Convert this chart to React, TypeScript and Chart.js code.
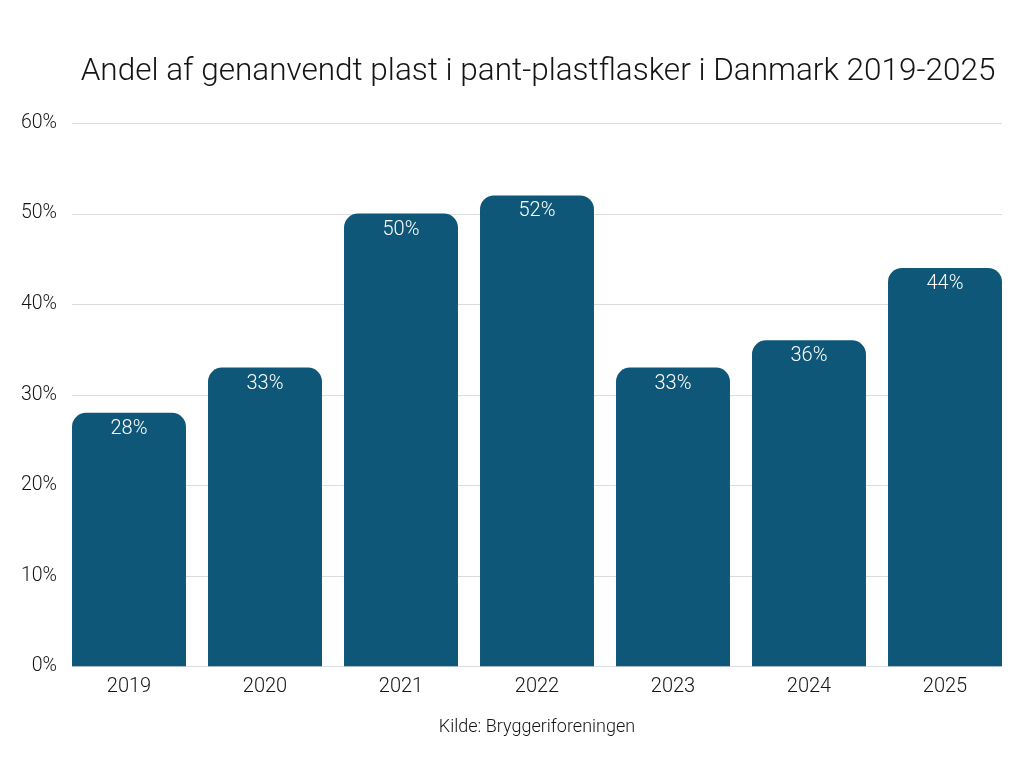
import React, { useEffect, useRef } from "react";
import { Chart, registerables } from "chart.js";

Chart.register(...registerables);

const categories = ["2019", "2020", "2021", "2022", "2023", "2024", "2025"];
const shares = [28, 33, 50, 52, 33, 36, 44];
const yTicks = [0, 10, 20, 30, 40, 50, 60];
const titleText = "Andel af genanvendt plast i pant-plastflasker i Danmark 2019-2025";
const sourceText = "Kilde: Bryggeriforeningen";

const FONT = "Roboto, 'Noto Sans', sans-serif";
const BAR = "#0e5779";
const TEXT = "#141414";

const gridPlugin = {
  id: "customGrid",
  beforeDatasetsDraw(chart: any) {
    const meta = chart.getDatasetMeta(0);
    if (!meta.data.length) return;
    const first = meta.data[0] as any;
    const last = meta.data[meta.data.length - 1] as any;
    const x0 = first.x - first.width / 2;
    const x1 = last.x + last.width / 2;
    const y = chart.scales.y;
    const ctx = chart.ctx;
    ctx.save();
    ctx.strokeStyle = "#dcdcdc";
    ctx.lineWidth = 1;
    y.ticks.forEach((t: any) => {
      const py = Math.round(y.getPixelForValue(t.value)) + 0.5;
      ctx.beginPath();
      ctx.moveTo(x0, py);
      ctx.lineTo(x1, py);
      ctx.stroke();
    });
    ctx.restore();
  },
};

const labelPlugin = {
  id: "barLabels",
  afterDatasetsDraw(chart: any) {
    const meta = chart.getDatasetMeta(0);
    const ctx = chart.ctx;
    ctx.save();
    ctx.fillStyle = "#ffffff";
    ctx.font = `300 20px ${FONT}`;
    ctx.textAlign = "center";
    ctx.textBaseline = "middle";
    meta.data.forEach((bar: any, i: number) => {
      ctx.fillText(`${shares[i]}%`, bar.x, bar.y + 16);
    });
    ctx.restore();
  },
};

const titlePlugin = {
  id: "centeredTitle",
  afterDraw(chart: any) {
    const ctx = chart.ctx;
    const a = chart.chartArea;
    ctx.save();
    ctx.fillStyle = TEXT;
    ctx.font = `300 31.5px ${FONT}`;
    ctx.textAlign = "center";
    ctx.textBaseline = "middle";
    ctx.fillText(titleText, (a.left + a.right) / 2 + 1, 72);
    ctx.restore();
  },
};

export default function App() {
  const ref = useRef<HTMLCanvasElement | null>(null);
  useEffect(() => {
    document.body.style.margin = "0";
    if (!ref.current) return;
    const chart = new Chart(ref.current, {
      type: "bar",
      data: {
        labels: categories,
        datasets: [
          {
            data: shares,
            backgroundColor: BAR,
            borderRadius: 14,
            borderSkipped: "start",
            barPercentage: 1,
            categoryPercentage: 0.838,
          },
        ],
      },
      plugins: [gridPlugin, labelPlugin, titlePlugin],
      options: {
        animation: false,
        responsive: false,
        maintainAspectRatio: false,
        layout: { padding: { left: 0, right: 11, top: 123, bottom: 30 } },
        plugins: {
          legend: { display: false },
          tooltip: { enabled: false },
          title: { display: false },
        },
        scales: {
          x: {
            grid: { display: false, drawTicks: false },
            border: { display: false },
            ticks: {
              color: TEXT,
              font: { family: FONT, size: 20, weight: "300" as any, lineHeight: 1.2 },
              padding: 9,
            },
            title: {
              display: true,
              text: sourceText,
              color: TEXT,
              font: { family: FONT, size: 18, weight: "300" as any, lineHeight: 1.2 },
              padding: { top: 8, bottom: 0 },
            },
          },
          y: {
            min: 0,
            max: 60,
            afterFit(scale: any) {
              scale.width = 61;
            },
            afterBuildTicks(scale: any) {
              scale.ticks = yTicks.map((v) => ({ value: v }));
            },
            grid: { display: false, drawTicks: false },
            border: { display: false },
            ticks: {
              color: TEXT,
              font: { family: FONT, size: 19.5, weight: "300" as any },
              padding: 4,
              callback: (v: any) => `${v}%`,
            },
          },
        },
      },
    });
    return () => chart.destroy();
  }, []);
  return (
    <div style={{ position: "absolute", left: 0, top: 0, width: 1024, height: 768, background: "#fff" }}>
      <canvas ref={ref} width={1024} height={768} style={{ width: 1024, height: 768 }} />
    </div>
  );
}
